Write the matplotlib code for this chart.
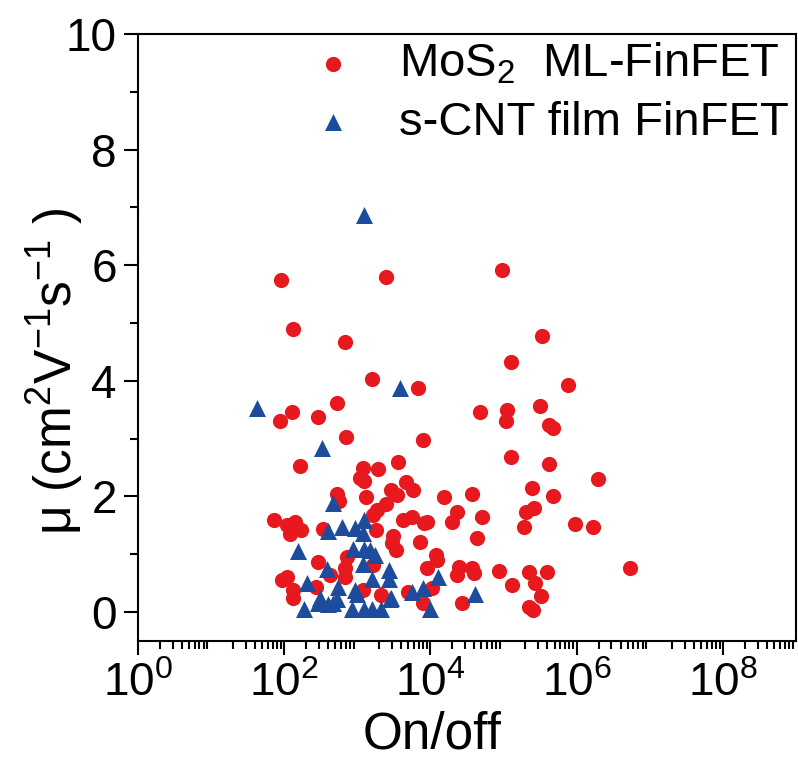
import matplotlib.pyplot as plt
from matplotlib.ticker import LogLocator, MultipleLocator, NullFormatter

plt.rcParams["font.family"] = ["Liberation Sans", "DejaVu Sans"]
plt.rcParams["mathtext.fontset"] = "custom"
plt.rcParams["mathtext.rm"] = "Liberation Sans"
plt.rcParams["mathtext.it"] = "Liberation Sans:italic"

# MoS2 ML-FinFET (on/off ratio, mobility)
mos2_onoff = [
    91, 2450, 133, 676, 1590, 6900, 128, 88, 290, 525, 700, 8000,
    166, 1200, 1960, 3650, 1080, 1250, 4700, 2870, 5750, 3550, 525, 560,
    1310, 2500, 1900, 1630, 73, 109, 141, 173, 120, 340, 1830, 4200,
    5700, 8300, 7200, 3100, 3000, 3450, 720, 290, 680, 1630, 430, 680,
    93, 110, 133, 133, 270, 1200, 2150, 4900, 8000, 10700,
    107000, 420000, 470000, 129000, 417000, 1.95e6, 245000, 480000,
    15500, 37500, 23500, 20000, 51000, 44000, 205000, 260000, 190000,
    950000, 1.67e6, 5.4e6, 9100, 12000, 12500, 8900, 23000, 25000,
    37000, 40000, 87000, 132000, 225000, 270000, 400000, 330000,
    224000, 250000, 27500, 96000, 340000, 129000, 760000, 48000,
    113000, 316000,
]
mos2_mu = [
    5.75, 5.8, 4.9, 4.67, 4.03, 3.88, 3.46, 3.3, 3.37, 3.62, 3.03, 2.97,
    2.52, 2.49, 2.47, 2.59, 2.32, 2.27, 2.25, 2.12, 2.12, 2.02, 2.05, 1.92,
    1.99, 1.87, 1.76, 1.68, 1.6, 1.5, 1.55, 1.42, 1.35, 1.43, 1.42, 1.59,
    1.64, 1.54, 1.21, 1.31, 1.19, 1.07, 0.95, 0.86, 0.77, 0.81, 0.65, 0.6,
    0.56, 0.6, 0.38, 0.24, 0.44, 0.38, 0.29, 0.34, 0.15, 0.41,
    3.31, 3.23, 3.18, 2.68, 2.56, 2.3, 2.14, 2.0,
    1.99, 2.04, 1.74, 1.55, 1.64, 1.28, 1.73, 1.8, 1.47,
    1.52, 1.47, 0.76, 1.56, 0.98, 0.9, 0.76, 0.65, 0.78,
    0.76, 0.67, 0.71, 0.46, 0.69, 0.51, 0.69, 0.27,
    0.08, 0.03, 0.15, 5.92, 4.78, 4.33, 3.93, 3.46,
    3.5, 3.57,
]

# s-CNT film FinFET
cnt_onoff = [
    1260, 3800, 43, 330, 465, 400, 630, 940, 1250, 1200, 870, 1260,
    1480, 1740, 158, 1200, 390, 1620, 2760, 2700, 205, 540, 940, 310,
    470, 2950, 5700, 8000, 190, 290, 400, 530, 850, 1000, 1250, 1600,
    2100, 2800, 10000, 12600, 41000,
]
cnt_mu = [
    6.87, 3.87, 3.53, 2.83, 1.88, 1.41, 1.48, 1.45, 1.6, 1.36, 1.1, 1.1,
    1.07, 0.98, 1.05, 0.84, 0.74, 0.58, 0.72, 0.58, 0.51, 0.44, 0.39, 0.24,
    0.15, 0.25, 0.34, 0.41, 0.05, 0.15, 0.14, 0.22, 0.05, 0.32, 0.06, 0.06,
    0.06, 0.22, 0.06, 0.6, 0.32,
]

fig = plt.figure(figsize=(7.98, 7.64), dpi=100)
ax = fig.add_axes([0.1725, 0.161, 0.825, 0.7945])

ax.scatter(mos2_onoff, mos2_mu, s=120, marker="o", color="#E8191E",
           linewidths=0, label="MoS$_2$  ML-FinFET", zorder=2)
ax.scatter(cnt_onoff, cnt_mu, s=150, marker="^", color="#1D4C9C",
           linewidths=0, label="s-CNT film FinFET", zorder=3)

ax.set_xscale("log")
ax.set_xlim(1, 1e9)
ax.set_ylim(-0.5, 10)

ax.xaxis.set_major_locator(LogLocator(base=10, numticks=20))
ax.xaxis.set_minor_locator(LogLocator(base=10, subs=range(2, 10), numticks=20))
ax.xaxis.set_minor_formatter(NullFormatter())
ax.set_xticks([1, 1e2, 1e4, 1e6, 1e8])
ax.yaxis.set_major_locator(MultipleLocator(2))
ax.yaxis.set_minor_locator(MultipleLocator(1))

ax.tick_params(which="major", direction="out", length=10, width=1.5,
               labelsize=33, top=False, right=False, pad=5)
ax.tick_params(which="minor", direction="out", length=6, width=1.5,
               top=False, right=False)
for sp in ax.spines.values():
    sp.set_linewidth(1.5)

ax.set_xlabel("On/off", fontsize=37)
ax.xaxis.set_label_coords(0.447, -0.115, transform=ax.transAxes)
ax.xaxis.label.set_va("top")
ax.set_ylabel("μ (cm$^2$V$^{-1}$s$^{-1}$ )", fontsize=37)
ax.yaxis.set_label_coords(-0.08, 0.445, transform=ax.transAxes)

ax.legend(loc="upper right", frameon=False, fontsize=34, handletextpad=0.4,
          borderaxespad=0.0, labelspacing=0.3, markerscale=1.0,
          borderpad=0.15)

fig.savefig("out.png", dpi=100)
